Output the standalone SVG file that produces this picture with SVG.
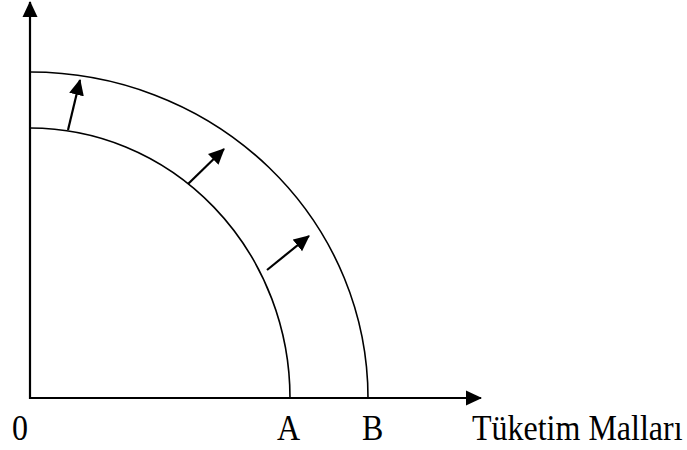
<svg xmlns="http://www.w3.org/2000/svg" width="687" height="450" viewBox="0 0 687 450">
<style>
.ax{stroke:#000;stroke-width:2.2;fill:none}
.cv{stroke:#000;stroke-width:1.6;fill:none}
.ar{stroke:#000;stroke-width:2.2;fill:none}
.t{font-family:"Liberation Serif","Times New Roman",serif;font-size:32px;fill:#000}
</style>
<defs>
<marker id="ah" markerUnits="userSpaceOnUse" markerWidth="16" markerHeight="16" viewBox="0 0 16 16" refX="15" refY="8" orient="auto">
<path d="M0,0.5 L16,8 L0,15.5 Z" fill="#000"/>
</marker>
</defs>
<rect width="687" height="450" fill="#fff"/>
<g id="axes">
<line class="ax" x1="30" y1="399" x2="30" y2="2" marker-end="url(#ah)"/>
<line class="ax" x1="29" y1="398" x2="481" y2="398" marker-end="url(#ah)"/>
</g>
<g id="curves">
<path id="inner" class="cv" d="M30,128 A260,270 0 0 1 290,398"/>
<path id="outer" class="cv" d="M30,72 A338,326 0 0 1 368,398"/>
</g>
<g id="connectors">
<line class="ar" x1="68" y1="130" x2="80" y2="80" marker-end="url(#ah)"/>
<line class="ar" x1="188" y1="184" x2="224" y2="149" marker-end="url(#ah)"/>
<line class="ar" x1="267" y1="270" x2="309" y2="236" marker-end="url(#ah)"/>
</g>
<g id="labels">
<text class="t" transform="translate(12,440) scale(1,1.1)">0</text>
<text class="t" transform="translate(277,440) scale(1,1.1)">A</text>
<text class="t" transform="translate(362,440) scale(1,1.1)">B</text>
<text class="t" transform="translate(472,440) scale(1,1.1)">Tüketim Malları</text>
</g>
</svg>
